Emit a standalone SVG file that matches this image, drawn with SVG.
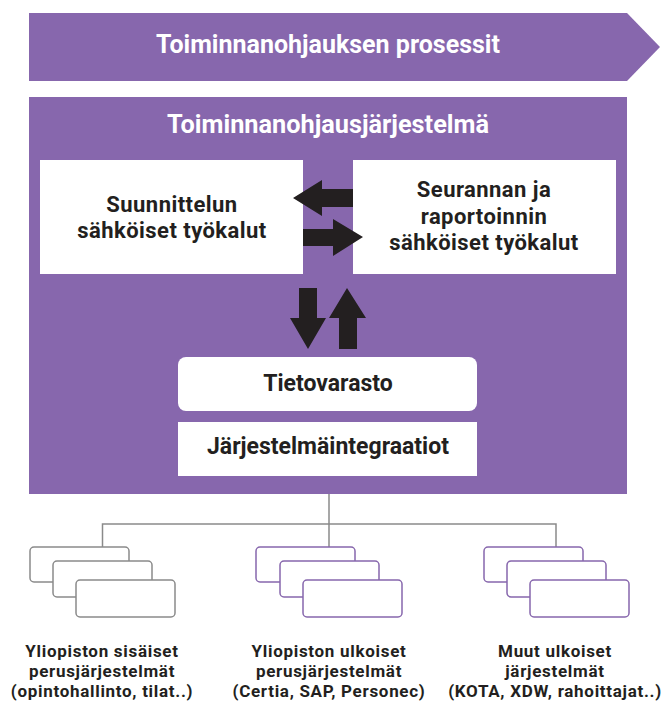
<svg xmlns="http://www.w3.org/2000/svg" width="667" height="701" viewBox="0 0 667 701">
  <style>
    .purple { fill: #8767ad; }
    .white { fill: #ffffff; }
    .arrow { fill: #231f20; }
    .title { font-family: Roboto, "Open Sans", sans-serif; font-weight: bold; fill: #ffffff; text-anchor: middle; }
    .label { font-family: Roboto, "Open Sans", sans-serif; font-weight: bold; fill: #231f20; text-anchor: middle; }
    .box { font-size: 22px; letter-spacing: 0.45px; }
    .store { font-size: 23px; }
    .base { font-size: 17px; letter-spacing: 0.7px; }
    .link { fill: none; stroke: #8a8a8a; stroke-width: 1.5; }
    .sysGrey { fill: #ffffff; stroke: #8a8a8a; stroke-width: 1.5; }
    .sysPurple { fill: #ffffff; stroke: #8767ad; stroke-width: 1.5; }
  </style>

  <!-- Process banner -->
  <g id="processes">
    <polygon class="purple" points="29,13 627,13 660,47 627,81 29,81"/>
    <text class="title" x="328" y="53" font-size="25">Toiminnanohjauksen prosessit</text>
  </g>

  <!-- System frame -->
  <g id="system">
    <rect class="purple" x="29" y="97" width="598" height="397"/>
    <text class="title" x="328" y="133" font-size="25.3">Toiminnanohjausjärjestelmä</text>
  </g>

  <g id="planning">
    <rect class="white" x="40" y="160" width="263" height="114"/>
    <text class="label box"><tspan x="172" y="212">Suunnittelun</tspan><tspan x="172" y="238">sähköiset työkalut</tspan></text>
  </g>

  <g id="reporting">
    <rect class="white" x="353" y="160" width="263" height="114"/>
    <text class="label box"><tspan x="484" y="197">Seurannan ja</tspan><tspan x="484" y="223.5">raportoinnin</tspan><tspan x="484" y="250">sähköiset työkalut</tspan></text>
  </g>

  <g id="warehouse">
    <rect class="white" x="178" y="357" width="299" height="54" rx="8"/>
    <text class="label store" x="328" y="391">Tietovarasto</text>
  </g>

  <g id="integrations">
    <rect class="white" x="178" y="422" width="299" height="54"/>
    <text class="label store" x="328" y="454">Järjestelmäintegraatiot</text>
  </g>

  <!-- Data flow arrows -->
  <g id="flows">
    <polygon class="arrow" points="293,198 322,180 322,189 353,189 353,207 322,207 322,216"/>
    <polygon class="arrow" points="363,237 333,219 333,229 303,229 303,246 333,246 333,256"/>
    <polygon class="arrow" points="299,288 317,288 317,318 326,318 308,349 290,318 299,318"/>
    <polygon class="arrow" points="347,288 366,318 357,318 357,349 339,349 339,318 329,318"/>
  </g>

  <!-- Connectors to base systems -->
  <g id="connectors">
    <path class="link" d="M329,494 V547 M102.5,547 V524 H556 V547"/>
  </g>

  <g id="internal">
    <rect class="sysGrey" x="30" y="547" width="99" height="35" rx="4"/>
    <rect class="sysGrey" x="53" y="561" width="99" height="36" rx="4"/>
    <rect class="sysGrey" x="76" y="580" width="99" height="37" rx="4"/>
    <text class="label base"><tspan x="102" y="657">Yliopiston sisäiset</tspan><tspan x="102" y="677">perusjärjestelmät</tspan><tspan x="102" y="697">(opintohallinto, tilat..)</tspan></text>
  </g>

  <g id="external">
    <rect class="sysPurple" x="256" y="547" width="99" height="35" rx="4"/>
    <rect class="sysPurple" x="280" y="561" width="99" height="36" rx="4"/>
    <rect class="sysPurple" x="303" y="580" width="99" height="37" rx="4"/>
    <text class="label base"><tspan x="329" y="657">Yliopiston ulkoiset</tspan><tspan x="329" y="677">perusjärjestelmät</tspan><tspan x="329" y="697">(Certia, SAP, Personec)</tspan></text>
  </g>

  <g id="other">
    <rect class="sysPurple" x="484" y="547" width="99" height="35" rx="4"/>
    <rect class="sysPurple" x="507" y="561" width="99" height="36" rx="4"/>
    <rect class="sysPurple" x="530" y="580" width="99" height="37" rx="4"/>
    <text class="label base"><tspan x="555" y="657">Muut ulkoiset</tspan><tspan x="555" y="677">järjestelmät</tspan><tspan x="555" y="697">(KOTA, XDW, rahoittajat..)</tspan></text>
  </g>
</svg>
